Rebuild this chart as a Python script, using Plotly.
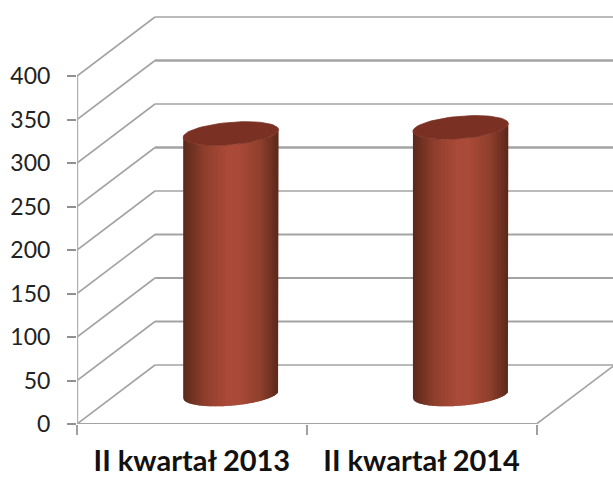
import numpy as np
import plotly.graph_objects as go

categories = ["II kwartał 2013", "II kwartał 2014"]
values = [300, 307]
y_ticks = [0, 50, 100, 150, 200, 250, 300, 350, 400]
grid_widths = [1.6, 2.2, 1.8, 2.0, 1.6, 2.6, 1.6, 2.6, 1.6]

W, H = 613, 477
L, T, B = 77, 0, 53
X_UNIT = 229.75
Y_UNIT = 0.87
DEPTH_X = 78 / X_UNIT
DEPTH_Y = 59 / Y_UNIT
HALF_W = 47.7 / X_UNIT
TILT = 3.8 / Y_UNIT
MINOR = 11.2 / Y_UNIT
GRID = "#a3a3a3"
STOPS_POS = [-1.0, -0.85, -0.55, -0.1, 0.2, 0.6, 0.85, 1.0]
STOPS_RGB = [(92, 41, 27), (108, 49, 33), (143, 63, 45), (170, 74, 56),
             (170, 74, 56), (145, 64, 46), (112, 50, 35), (90, 40, 27)]


def shade(c):
    chan = [np.interp(c, STOPS_POS, [s[i] for s in STOPS_RGB]) for i in range(3)]
    return "rgb(%d,%d,%d)" % tuple(chan)


fig = go.Figure()


def line(xs, ys, width, color=GRID):
    fig.add_trace(go.Scatter(x=xs, y=ys, mode="lines", cliponaxis=False,
                             line=dict(color=color, width=width),
                             hoverinfo="skip", showlegend=False))


n_cat = len(categories)
for v, w in zip(y_ticks, grid_widths):
    line([0, DEPTH_X], [v, v + DEPTH_Y], 1.6)
    line([DEPTH_X, n_cat + DEPTH_X], [v + DEPTH_Y, v + DEPTH_Y], w)
line([n_cat, n_cat + DEPTH_X], [0, DEPTH_Y], 1.6)
line([0, n_cat], [0, 0], 2.2)
line([0, 0], [0, max(y_ticks)], 2.4, "#b0b0b0")

N = 60
for i, val in enumerate(values):
    cx = i + 0.5 + DEPTH_X / 2
    base = DEPTH_Y / 2
    edges = np.linspace(-1, 1, N + 1)
    for j in range(N):
        c = np.linspace(edges[j], min(edges[j + 1] + 0.02, 1), 4)
        arc = TILT * c - MINOR * np.sqrt(np.clip(1 - c ** 2, 0, 1))
        xs = cx + HALF_W * c
        px = np.concatenate([xs, xs[::-1]])
        py = np.concatenate([base + val + arc, (base + arc)[::-1]])
        col = shade((edges[j] + edges[j + 1]) / 2)
        fig.add_trace(go.Scatter(x=px, y=py, mode="lines", fill="toself",
                                 fillcolor=col, line=dict(width=0, color=col),
                                 hoverinfo="skip", showlegend=False))
    t = np.linspace(0, 2 * np.pi, 80)
    fig.add_trace(go.Scatter(
        x=cx + HALF_W * np.cos(t),
        y=base + val + TILT * np.cos(t) + MINOR * np.sin(t),
        mode="lines", fill="toself", fillcolor="#7a3023",
        line=dict(width=0.8, color="#7a3023"),
        hoverinfo="skip", showlegend=False))

fig.update_layout(
    width=W, height=H, autosize=False,
    margin=dict(l=L, r=0, t=T, b=B, pad=0, autoexpand=False),
    paper_bgcolor="white", plot_bgcolor="white",
    showlegend=False,
    xaxis=dict(range=[0, (W - L) / X_UNIT], showgrid=False, zeroline=False,
               showline=False, tickmode="array", automargin=False,
               tickvals=[k + 0.5 for k in range(n_cat)], ticktext=categories,
               ticks="", ticklabelstandoff=17,
               tickfont=dict(family="Lato", size=29, color="#111111", weight="bold"),
               minor=dict(tickmode="array", tickvals=list(range(n_cat + 1)),
                          ticks="outside", ticklen=10, tickwidth=2.4,
                          tickcolor="#a0a0a0", showgrid=False)),
    yaxis=dict(range=[0, (H - T - B) / Y_UNIT], showgrid=False, zeroline=False,
               showline=False, tickmode="array", tickvals=y_ticks, automargin=False,
               ticks="outside", ticklen=9, tickwidth=2.2, tickcolor="#909090",
               ticklabelstandoff=12,
               tickfont=dict(family="Lato", size=23, color="#222222")),
)
fig.write_html("out.html", config=dict(displayModeBar=False),
               post_script="document.body.style.margin='0';document.documentElement.style.overflow='hidden';")
